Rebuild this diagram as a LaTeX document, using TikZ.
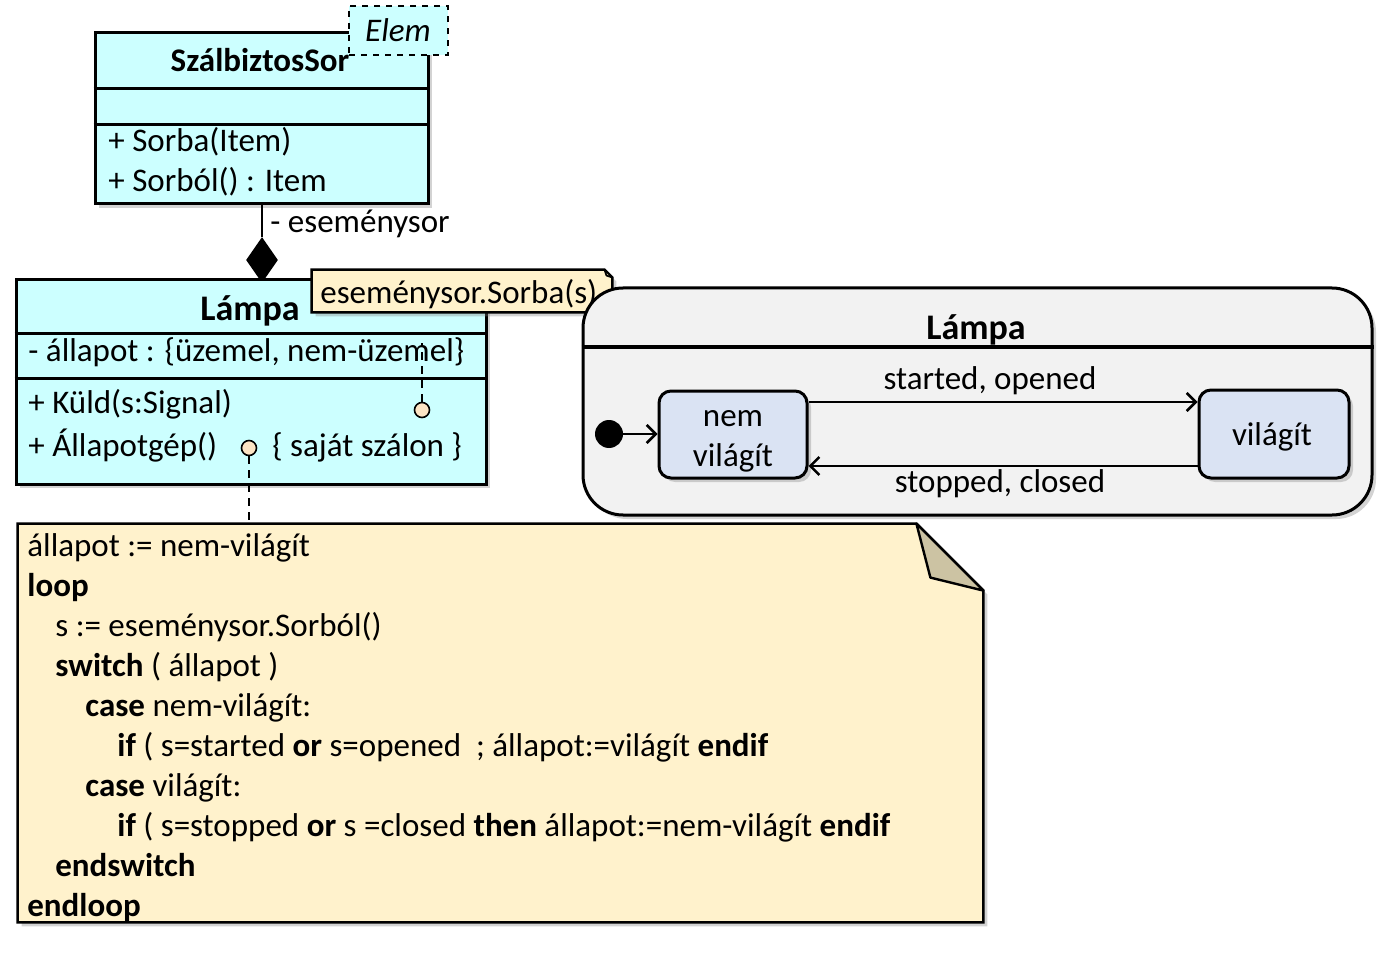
\documentclass[tikz,border=0pt]{standalone}
\usepackage{fontspec}
\setmainfont{Carlito}
\usepackage{tikz}
\usetikzlibrary{positioning,shadows,shapes.geometric,arrows.meta,fit}

\definecolor{classcyan}{HTML}{CCFFFF}
\definecolor{notefill}{HTML}{FFF2CC}
\definecolor{foldfill}{HTML}{CCC3A3}
\definecolor{pinfill}{HTML}{FCE4C4}
\definecolor{statefill}{HTML}{DAE3F3}
\definecolor{smfill}{HTML}{F2F2F2}

\begin{document}
\begin{tikzpicture}[y=-0.5pt,x=0.5pt,
	font=\fontsize{16.5}{20}\selectfont,
	shade/.style={drop shadow={shadow xshift=2pt,shadow yshift=-2pt,opacity=0.35}},
	classbox/.style={draw,line width=1.5pt,fill=classcyan,inner sep=0pt,shade},
	elembox/.style={draw,dashed,line width=0.8pt,fill=classcyan,inner sep=0pt},
	notebox/.style={draw,line width=1.2pt,fill=notefill,shade},
	foldbox/.style={draw,line width=1.2pt,fill=foldfill,line join=round},
	smbox/.style={draw,line width=1.5pt,fill=smfill,rounded corners=20pt,inner sep=0pt,shade},
	statebox/.style={draw,line width=1.5pt,fill=statefill,rounded corners=6pt,inner sep=0pt,shade},
	sep/.style={line width=1.5pt},
	txt/.style={inner sep=0pt,anchor=base west},
	ctxt/.style={inner sep=0pt,anchor=base},
	title/.style={ctxt,font=\fontsize{18}{22}\selectfont\bfseries},
	pin/.style={circle,draw,line width=0.8pt,fill=pinfill,minimum size=7.5pt,inner sep=0pt},
	link/.style={line width=0.9pt,dash pattern=on 4pt off 3pt},
	trans/.style={line width=1.4pt,-{Straight Barb[length=4.5pt,width=9pt,line width=1.3pt]}},
	initdot/.style={circle,fill,minimum size=14pt,inner sep=0pt},
]
	\useasboundingbox (0,0) rectangle (1387,957);

	\node[classbox,fit={(95,33) (428,204)}] (sor) {};
	\draw[sep] (sor.west |- 0,89) -- (sor.east |- 0,89);
	\draw[sep] (sor.west |- 0,125) -- (sor.east |- 0,125);
	\node[ctxt,font=\fontsize{16.5}{20}\selectfont\bfseries] (sortitle) at (260,72) {SzálbiztosSor};
	\node[txt] (sorba) at (108,152) {+ Sorba(Item)};
	\node[txt] (sorbol) at (108,192) {+ Sorból() : Item};
	\node[elembox,fit={(349,6) (448,55)}] (elem) {};
	\node[ctxt] (elemtext) at (398,42) {\textit{Elem}};

	\node[diamond,fill,minimum width=16pt,minimum height=23pt,inner sep=0pt] (comp) at (262,260) {};
	\draw[line width=1.2pt] (comp.north |- sor.south) -- (comp.north);
	\node[txt] (role) at (270,233) {- eseménysor};

	\node[classbox,fit={(16,280) (486,484)}] (lampa) {};
	\draw[sep] (lampa.west |- 0,334) -- (lampa.east |- 0,334);
	\draw[sep] (lampa.west |- 0,378) -- (lampa.east |- 0,378);
	\node[title] (lampatitle) at (250,321) {Lámpa};
	\node[txt] (allapot) at (28,362) {- állapot : \{üzemel, nem-üzemel\}};
	\node[txt] (kuld) at (28,413) {+ Küld(s:Signal)};
	\node[txt] (gep) at (28,456) {+ Állapotgép()};
	\node[txt] (szal) at (272,456) {\{ saját szálon \}};

	\node[pin] (pin1) at (422,410) {};
	\node[pin] (pin2) at (249,448) {};
	\draw[link] (pin1.north) -- (pin1.north |- 0,343);

	\node[inner sep=0pt,fit={(312,270) (612,312)}] (sorbanote) {};
	\draw[notebox] (sorbanote.north west) -- ([xshift=-4pt]sorbanote.north east) -- ([yshift=-4pt]sorbanote.north east)
		-- (sorbanote.south east) -- (sorbanote.south west) -- cycle;
	\draw[foldbox,line width=0.8pt] ([xshift=-4pt]sorbanote.north east) -- ([xshift=-3pt,yshift=-3pt]sorbanote.north east) -- ([yshift=-4pt]sorbanote.north east) -- cycle;
	\node[txt] (sorbatext) at (320,304) {eseménysor.Sorba(s)};

	\node[smbox,fit={(583,288) (1372,515)}] (sm) {};
	\draw[sep] (sm.west |- 0,347) -- (sm.east |- 0,347);
	\node[title] (smtitle) at (976,340) {Lámpa};

	\node[statebox,fit={(659,391) (807,478)}] (nv) {};
	\node[ctxt] (nvtext1) at (733,426) {nem};
	\node[ctxt] (nvtext2) at (733,466) {világít};
	\node[statebox,fit={(1199,390) (1349,478)}] (vil) {};
	\node[ctxt] (viltext) at (1272,445) {világít};
	\node[initdot] (init) at (609,434) {};

	\draw[trans] (init) -- (nv.west |- init);
	\draw[trans] (nv.east |- 0,402) -- (vil.west |- 0,402);
	\draw[trans] (vil.west |- 0,466) -- (nv.east |- 0,466);
	\node[ctxt] (on) at (990,389) {started, opened};
	\node[ctxt] (off) at (1000,492) {stopped, closed};

	\node[inner sep=0pt,fit={(18,524) (983,922)}] (code) {};
	\draw[notebox] (code.north west) -- ([xshift=-33.5pt]code.north east) -- ([yshift=-33.5pt]code.north east)
		-- (code.south east) -- (code.south west) -- cycle;
	\draw[foldbox] ([xshift=-33.5pt]code.north east) -- ([xshift=-26.5pt,yshift=-27pt]code.north east) -- ([yshift=-33.5pt]code.north east) -- cycle;
	\draw[link] (pin2.south) -- (pin2.south |- code.north);

	\node[txt] (c1) at (27,556) {állapot := nem-világít};
	\node[txt] (c2) at (27,596) {\textbf{loop}};
	\node[txt] (c3) at (55,636) {s := eseménysor.Sorból()};
	\node[txt] (c4) at (55,676) {\textbf{switch} ( állapot )};
	\node[txt] (c5) at (85,716) {\textbf{case} nem-világít:};
	\node[txt] (c6) at (117,756) {\textbf{if} ( s=started \textbf{or} s=opened\ \ ; állapot:=világít \textbf{endif}};
	\node[txt] (c7) at (85,796) {\textbf{case} világít:};
	\node[txt] (c8) at (117,836) {\textbf{if} ( s=stopped \textbf{or} s =closed \textbf{then} állapot:=nem-világít \textbf{endif}};
	\node[txt] (c9) at (55,876) {\textbf{endswitch}};
	\node[txt] (c10) at (27,916) {\textbf{endloop}};
\end{tikzpicture}
\end{document}
